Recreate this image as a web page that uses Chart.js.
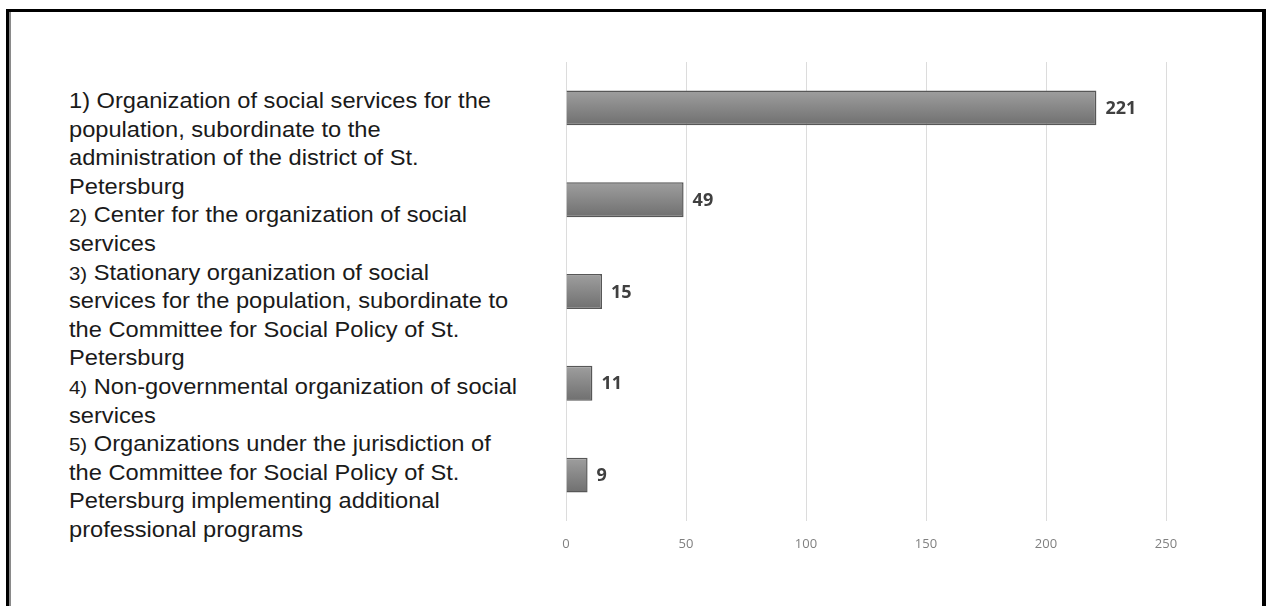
<!DOCTYPE html>
<html>
<head>
<meta charset="utf-8">
<script src="https://cdn.jsdelivr.net/npm/chart.js@4/dist/chart.umd.min.js"></script>
<style>
  html, body { margin: 0; padding: 0; background: #fff; }
  #wrap { position: relative; width: 1267px; height: 606px; overflow: hidden; }
  #frame {
    position: absolute; left: 6px; top: 9px; width: 1253px; height: 620px;
    border-left: 3px solid #000; border-top: 3px solid #000; border-right: 4px solid #000;
    box-shadow: inset 2px 0 0 #8a8a8a;
  }
  #labels {
    position: absolute; left: 69px; top: 87px;
    font-family: "Liberation Sans", Arial, sans-serif; font-size: 22px; line-height: 28.6px;
    color: #1a1a1a; white-space: nowrap;
    transform: scaleX(1.075); transform-origin: 0 0;
  }
  #labels div { height: 28.6px; }
  #labels .num { font-size: 19px; line-height: 0; }
  #chart { position: absolute; left: 0; top: 0; }
</style>
</head>
<body>
<div id="wrap">
  <div id="frame"></div>
  <div id="labels"></div>
  <canvas id="chart" width="1267" height="606"></canvas>
</div>
<script>
// categories, one array of wrapped lines each
var categories = [
  ["1) Organization of social services for the", "population, subordinate to the", "administration of the district of St.", "Petersburg"],
  ["2) Center for the organization of social", "services"],
  ["3) Stationary organization of social", "services for the population, subordinate to", "the Committee for Social Policy of St.", "Petersburg"],
  ["4) Non-governmental organization of social", "services"],
  ["5) Organizations under the jurisdiction of", "the Committee for Social Policy of St.", "Petersburg implementing additional", "professional programs"]
];
var values = [221, 49, 15, 11, 9];
var xTicks = [0, 50, 100, 150, 200, 250];

// the text block on the left; numbering after the first item is set smaller
var box = document.getElementById("labels");
categories.forEach(function (lines, i) {
  lines.forEach(function (l, j) {
    var d = document.createElement("div");
    if (i > 0 && j === 0) {
      var m = l.match(/^(\d\))(.*)$/);
      var n = document.createElement("span");
      n.className = "num";
      n.textContent = m[1];
      d.appendChild(n);
      d.appendChild(document.createTextNode(m[2]));
    } else {
      d.textContent = l;
    }
    box.appendChild(d);
  });
});

// value at the end of each bar
var valueLabels = {
  id: "valueLabels",
  afterDatasetsDraw: function (chart) {
    var ctx = chart.ctx;
    var meta = chart.getDatasetMeta(0);
    ctx.save();
    ctx.font = "bold 18px 'Open Sans', sans-serif";
    ctx.fillStyle = "#404040";
    ctx.textBaseline = "middle";
    meta.data.forEach(function (bar, i) {
      ctx.fillText(values[i], bar.x + 9, bar.y + 1);
    });
    ctx.restore();
  }
};

function barFill(c) {
  var chart = c.chart;
  var y = chart.scales.y;
  if (!y || c.dataIndex === undefined) return "#888";
  var mid = y.getPixelForValue(c.dataIndex);
  if (!isFinite(mid)) return "#888";
  var g = chart.ctx.createLinearGradient(0, mid - 17, 0, mid + 17);
  g.addColorStop(0, "#9e9e9e");
  g.addColorStop(1, "#707070");
  return g;
}

var chart = new Chart(document.getElementById("chart").getContext("2d"), {
  type: "bar",
  data: {
    labels: categories,
    datasets: [{
      data: values,
      backgroundColor: barFill,
      borderColor: "#575757",
      borderWidth: 1.5,
      barPercentage: 0.38,
      categoryPercentage: 1
    }]
  },
  plugins: [valueLabels],
  options: {
    indexAxis: "y",
    responsive: false,
    animation: false,
    layout: { padding: { left: 566, right: 101, top: 62, bottom: 47 } },
    plugins: { legend: { display: false }, tooltip: { enabled: false } },
    scales: {
      y: { display: false },
      x: {
        min: 0,
        max: 250,
        afterBuildTicks: function (s) {
          s.ticks = xTicks.map(function (v) { return { value: v }; });
        },
        afterFit: function (s) { s.height = 38; },
        grid: { color: "#dcdcdc", lineWidth: 1, drawTicks: false },
        border: { display: false },
        ticks: {
          padding: 15,
          color: "#808080",
          font: { family: "'Open Sans', sans-serif", size: 13 }
        }
      }
    }
  }
});
</script>
</body>
</html>
